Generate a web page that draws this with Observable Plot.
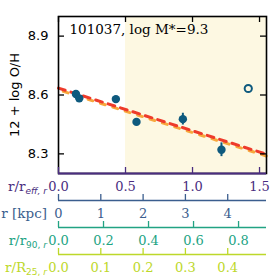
<!DOCTYPE html>
<html><head><meta charset="utf-8">
<script src="https://cdn.jsdelivr.net/npm/d3@7"></script>
<script src="https://cdn.jsdelivr.net/npm/@observablehq/plot@0.6"></script>
<style>
body{margin:0;background:#fff}
#c{position:relative;width:277px;height:277px;overflow:hidden;background:#fff}
#c svg{position:absolute;left:0;overflow:visible}
.lab{position:absolute;left:0;text-align:right;font-family:"DejaVu Serif";font-size:13.5px;line-height:13px;white-space:nowrap}
.lab sub{font-family:"DejaVu Sans";font-size:9px;line-height:0;vertical-align:-3px}
</style></head><body><div id="c"></div>
<script>
const title = "101037, log M*=9.3";
const yLabel = "12 + log O/H";
const galaxyR = [0.13, 0.155, 0.428, 0.582, 0.928, 1.216];
const galaxyOH = [8.605, 8.583, 8.579, 8.463, 8.477, 8.321];
const galaxyErr = [0.008, 0.008, 0.008, 0.008, 0.03, 0.035];
const outlierR = [1.416];
const outlierOH = [8.633];
const fitR = [0, 1.552];
const fitRed = [8.635, 8.298];
const fitOrange = [8.626, 8.289];
const shadeFrom = 0.5;
const yTicks = [8.3, 8.6, 8.9];
const reffTicks = [0, 0.5, 1.0, 1.5];
const kpcTicks = [0, 1, 2, 3, 4];
const r90Ticks = [0, 0.2, 0.4, 0.6, 0.8];
const r25Ticks = [0, 0.1, 0.2, 0.3, 0.4];
const kpcPerReff = 3.168, kpcPerR90 = 5.32, kpcPerR25 = 10.0;
const xMaxReff = 1.552;
const yDomain = [8.2, 9.0];

const purple = "#4a2d80", blue = "#3b5e8e", teal = "#22a383", lime = "#bdd82a";
const ptColor = "#0e5a7e";
const W = 277, ML = 58, MR = 11, MT = 16, FB = 173, H = 200;
const innerW = W - ML - MR, innerH = FB - MT;

const pts = galaxyR.map((r, i) => ({r, oh: galaxyOH[i], e: galaxyErr[i]}));
const outl = outlierR.map((r, i) => ({r, oh: outlierOH[i]}));
const redLine = fitR.map((r, i) => ({r, oh: fitRed[i]}));
const orLine = fitR.map((r, i) => ({r, oh: fitOrange[i]}));

const main = Plot.plot({
  width: W, height: H, marginLeft: ML, marginRight: MR, marginTop: MT, marginBottom: H - FB,
  x: {domain: [0, xMaxReff], axis: null},
  y: {domain: yDomain, axis: null},
  style: {background: "transparent", overflow: "visible"},
  marks: [
    Plot.rect([shadeFrom], {x1: d => d, x2: xMaxReff, fill: "#fdf8e2"}),
    Plot.line(orLine, {x: "r", y: "oh", stroke: "#f7a83c", strokeWidth: 3, strokeDasharray: "5,8", strokeDashoffset: -5}),
    Plot.line(redLine, {x: "r", y: "oh", stroke: "#ee3b2b", strokeWidth: 3, strokeDasharray: "7,6"}),
    Plot.ruleX(pts, {x: "r", y1: d => d.oh - d.e, y2: d => d.oh + d.e, stroke: ptColor, strokeWidth: 2}),
    Plot.dot(pts, {x: "r", y: "oh", r: 4.2, fill: ptColor}),
    Plot.dot(outl, {x: "r", y: "oh", r: 3.6, stroke: ptColor, strokeWidth: 2, fill: "none"}),
    Plot.frame({stroke: "black", strokeWidth: 1.6}),
    Plot.ruleY([yDomain[0]], {stroke: purple, strokeWidth: 2.2}),
    Plot.ruleY(yTicks, {insetRight: innerW - 6, stroke: "black", strokeWidth: 1.3}),
    Plot.ruleY(yTicks, {insetLeft: innerW - 6, stroke: "black", strokeWidth: 1.3}),
    Plot.ruleX(reffTicks, {insetBottom: innerH - 6, stroke: "black", strokeWidth: 1.3}),
    Plot.ruleX(reffTicks, {insetTop: innerH - 6, stroke: purple, strokeWidth: 1.3}),
    Plot.axisY(yTicks, {tickSize: 0, tickPadding: 10, tickFormat: d => d.toFixed(1), fontSize: 13, fontFamily: "DejaVu Sans", color: "black", label: null}),
    Plot.axisX(reffTicks, {tickSize: 0, tickPadding: 8, tickFormat: d => d.toFixed(1), fontSize: 13, fontFamily: "DejaVu Serif", color: purple, label: null}),
    Plot.text([yLabel], {frameAnchor: "left", rotate: -90, dx: -44, textAnchor: "middle", fontSize: 13, fontFamily: "DejaVu Sans", fill: "black"}),
    Plot.text([title], {frameAnchor: "top-left", dx: 11, dy: 17, lineAnchor: "bottom", textAnchor: "start", fontSize: 13.5, fontFamily: "DejaVu Serif", fill: "black"})
  ]
});
main.style.top = "0px";

function strip(top, ticks, perKpc, fmt, color) {
  const p = Plot.plot({
    width: W, height: 30, marginLeft: ML, marginRight: MR, marginTop: 8, marginBottom: 16,
    x: {domain: [0, xMaxReff * kpcPerReff / perKpc], axis: null},
    y: {domain: [0, 1], axis: null},
    style: {background: "transparent", overflow: "visible"},
    marks: [
      Plot.ruleY([0], {stroke: color, strokeWidth: 1.6}),
      Plot.ruleX(ticks, {y1: 0, y2: 1, stroke: color, strokeWidth: 1.3}),
      Plot.axisX(ticks, {tickSize: 0, tickPadding: 8, tickFormat: fmt, fontSize: 13, fontFamily: "DejaVu Serif", color, label: null})
    ]
  });
  p.style.top = top + "px";
  return p;
}

const c = document.getElementById("c");
c.appendChild(main);
c.appendChild(strip(186, kpcTicks, 1, d => String(d), blue));
c.appendChild(strip(213, r90Ticks, kpcPerR90, d => d.toFixed(1), teal));
c.appendChild(strip(240, r25Ticks, kpcPerR25, d => d.toFixed(1), lime));

const labels = [
  {html: 'r/r<sub><i>eff, r</i></sub>', top: 180, w: 47, color: purple},
  {html: 'r [kpc]', top: 207, w: 47, color: blue},
  {html: 'r/r<sub>90, <i>r</i></sub>', top: 234, w: 47, color: teal},
  {html: 'r/R<sub>25, <i>r</i></sub>', top: 261, w: 47, color: lime}
];
for (const l of labels) {
  const d = document.createElement("div");
  d.className = "lab";
  d.innerHTML = l.html;
  d.style.top = l.top + "px";
  d.style.width = l.w + "px";
  d.style.color = l.color;
  c.appendChild(d);
}
</script></body></html>
